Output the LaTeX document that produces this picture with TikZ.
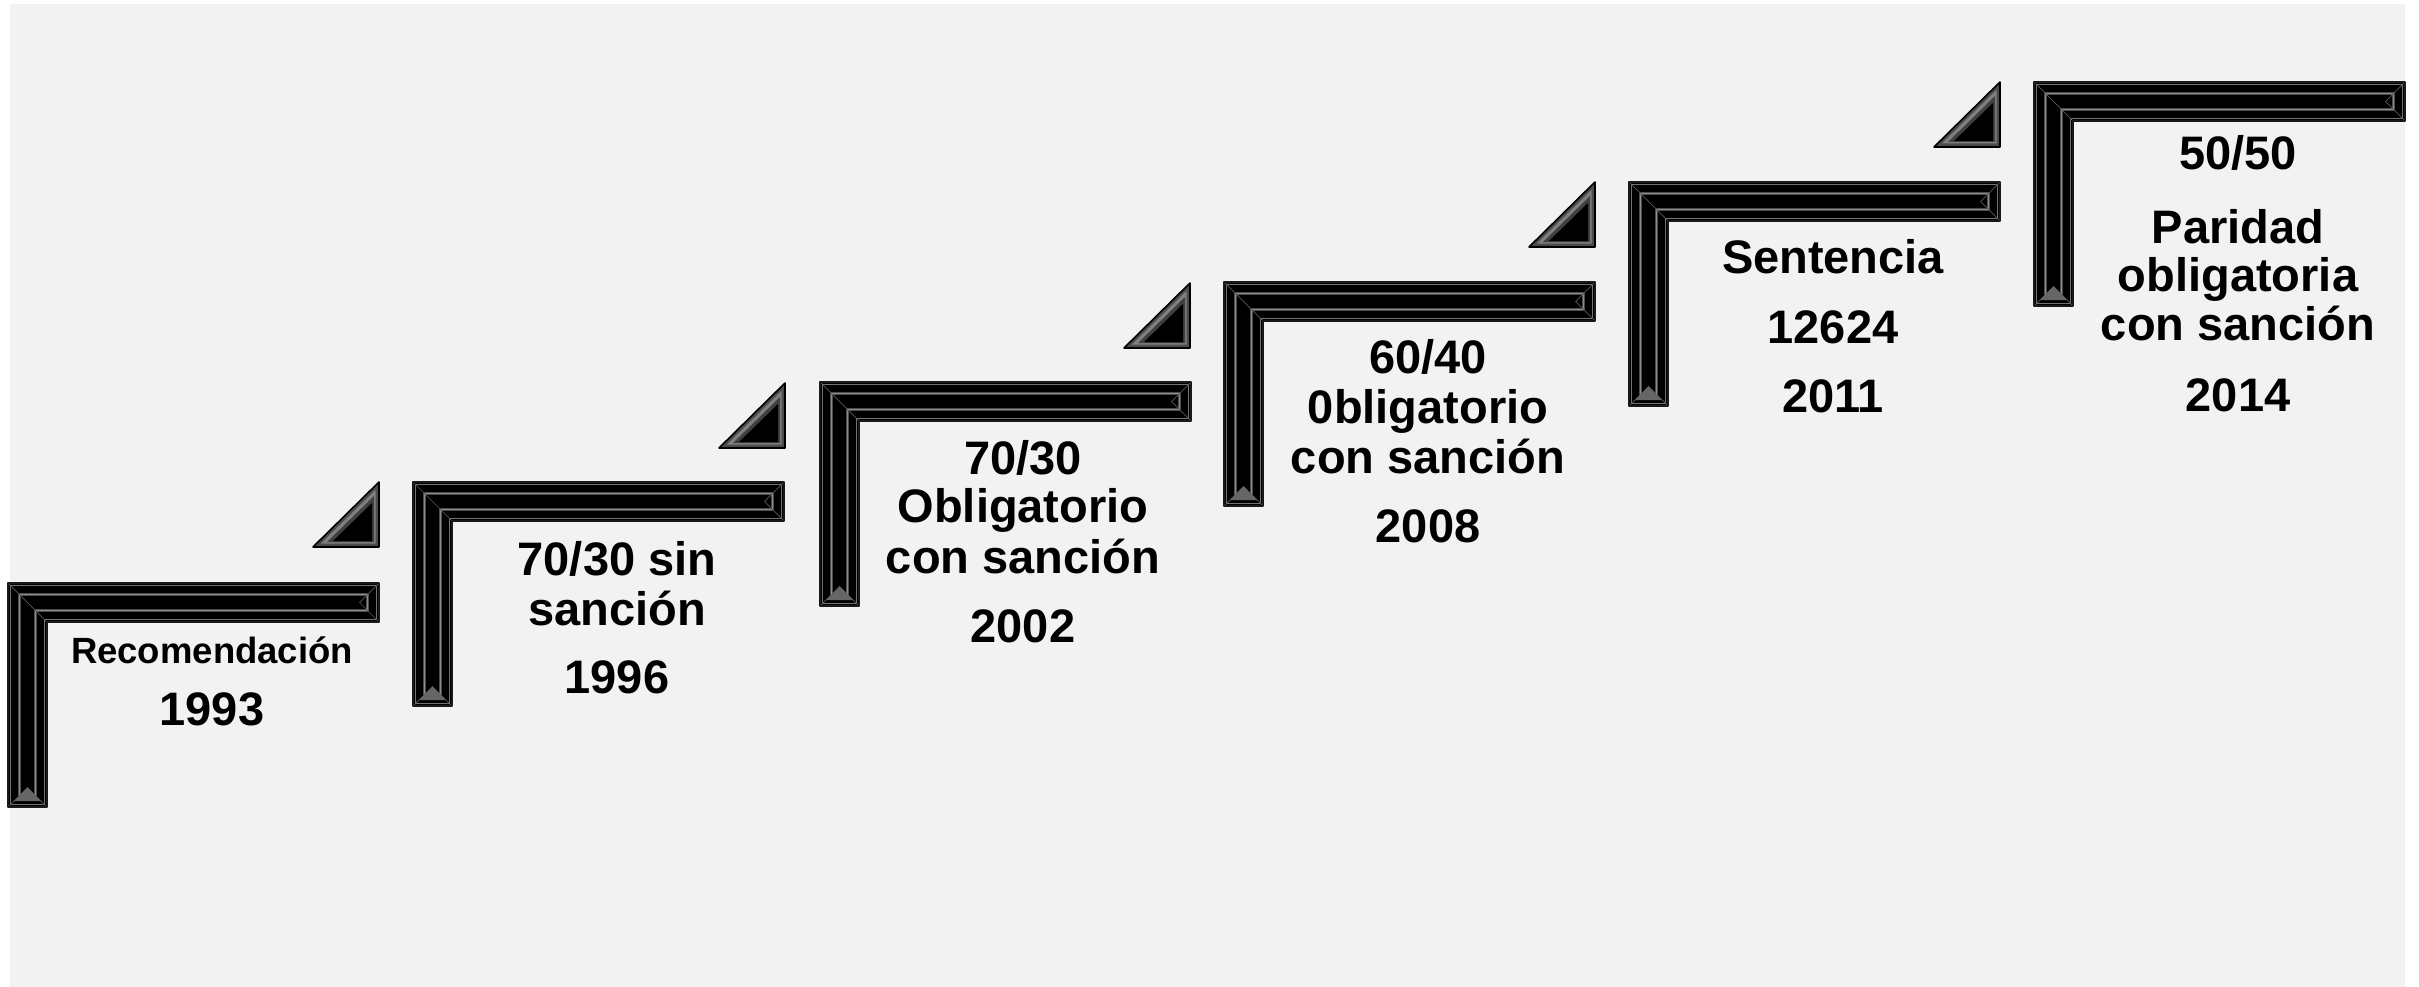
\documentclass[tikz,border=0pt]{standalone}
\usepackage{fontspec}
\setmainfont{Liberation Sans}
\definecolor{bg}{HTML}{F2F2F2}
\tikzset{
  big/.style={font=\fontsize{47}{50}\selectfont\bfseries, inner sep=0pt, anchor=base, text=black},
  small/.style={font=\fontsize{36.5}{40}\selectfont\bfseries, inner sep=0pt, anchor=base, text=black},
}
% inset polygon of the half frame (W=371, t=39, H=224)
\newcommand{\Lpoly}[1]{({#1},{#1}) -- ({371-#1},{#1}) -- ({371-#1},{39-#1}) -- ({39-#1},{39-#1}) -- ({39-#1},{224-#1}) -- ({#1},{224-#1}) -- cycle}
\newcommand{\halfframe}[2]{%
  \begin{scope}[shift={(#1,#2)}]
    \fill[black] \Lpoly{0};
    \draw[black!55, line width=1.2pt] \Lpoly{2.8};
    \draw[black!70, line width=3pt] \Lpoly{11.5};
    \draw[black!45, line width=0.9pt] \Lpoly{11.5};
    \draw[black!65, line width=0.7pt] (0,0) -- (39,39);
    \draw[black!65, line width=0.7pt] (371,0) -- (351.5,19.5) -- (371,39);
    \draw[black!65, line width=0.7pt] (0,224) -- (19.5,204.5) -- (39,224);
    \fill[black!60] (6,218) -- (19.5,204.5) -- (33,218) -- cycle;
    \draw[black!90, line width=1.6pt, line join=round] \Lpoly{0};
  \end{scope}}
\newcommand{\bevtri}[2]{%
  \begin{scope}[shift={(#1,#2)}]
    \fill[black!70] (-66,0) -- (0,-65) -- (0,0) -- cycle;
    \fill[black!50] (-58,-3.5) -- (-3.5,-57) -- (-3.5,-3.5) -- cycle;
    \fill[black!75] (-52,-5) -- (-5,-51) -- (-5,-5) -- cycle;
    \fill[black] (-46,-6) -- (-7,-44) -- (-7,-6) -- cycle;
    \draw[black, line width=1.6pt, line join=round] (-66,0) -- (0,-65) -- (0,0) -- cycle;
  \end{scope}}
\begin{document}
\begin{tikzpicture}[x=1pt, y=-1pt]
  \useasboundingbox (0,0) rectangle (2419,987);
  \fill[white] (0,0) rectangle (2419,987);
  \fill[bg] (10,4) rectangle (2405,987);

  % frames
  \halfframe{8}{583}
  \halfframe{413}{482}
  \halfframe{820}{382}
  \halfframe{1224}{282}
  \halfframe{1629}{182}
  \halfframe{2034}{82}

  % triangles
  \bevtri{379}{547}
  \bevtri{785}{448}
  \bevtri{1190}{348}
  \bevtri{1595}{247}
  \bevtri{2000}{147}

  % texts
  \node[small] (t1a) at (212,663) {Recomendación};
  \node[big]   (t1b) at (212,725) {1993};

  \node[big] (t2a) at (617,575) {70/30 sin};
  \node[big] (t2b) at (617,625) {sanción};
  \node[big] (t2c) at (617,693) {1996};

  \node[big] (t3a) at (1023,474) {70/30};
  \node[big] (t3b) at (1023,522) {Obligatorio};
  \node[big] (t3c) at (1023,573) {con sanción};
  \node[big] (t3d) at (1023,642) {2002};

  \node[big] (t4a) at (1428,373) {60/40};
  \node[big] (t4b) at (1428,423) {0bligatorio};
  \node[big] (t4c) at (1428,473) {con sanción};
  \node[big] (t4d) at (1428,542) {2008};

  \node[big] (t5a) at (1833,273) {Sentencia};
  \node[big] (t5b) at (1833,343) {12624};
  \node[big] (t5c) at (1833,412) {2011};

  \node[big] (t6a) at (2238,170) {50/50};
  \node[big] (t6b) at (2238,243) {Paridad};
  \node[big] (t6c) at (2238,291) {obligatoria};
  \node[big] (t6d) at (2238,340) {con sanción};
  \node[big] (t6e) at (2238,411) {2014};
\end{tikzpicture}
\end{document}
